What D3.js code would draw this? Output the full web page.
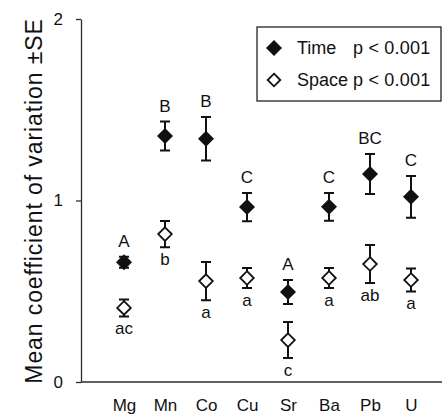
<!doctype html>
<html lang="en">
<head>
  <meta charset="utf-8">
  <title>Mean coefficient of variation</title>
  <script src="https://d3js.org/d3.v7.min.js"></script>
  <style>
    body { margin: 0; background: #fff; }
    svg { display: block; font-family: "Liberation Sans", Arial, Helvetica, sans-serif; }
    .axis path, .axis line { stroke: #332b2b; stroke-width: 1.3; }
    .axis text { font-size: 17px; fill: #111; }
    .letter { font-size: 17px; fill: #111; text-anchor: middle; }
  </style>
</head>
<body>
<div id="chart"></div>
<script>
// element categories
const elements = ['Mg', 'Mn', 'Co', 'Cu', 'Sr', 'Ba', 'Pb', 'U'];

// temporal variation (filled diamonds)
const timeMean = [0.66, 1.355, 1.34, 0.964, 0.496, 0.965, 1.146, 1.02];
const timeSE   = [0.03, 0.08, 0.12, 0.078, 0.066, 0.077, 0.11, 0.115];
const timeGroup = ['A', 'B', 'B', 'C', 'A', 'C', 'BC', 'C'];

// spatial variation (open diamonds)
const spaceMean = [0.408, 0.815, 0.556, 0.573, 0.231, 0.573, 0.65, 0.562];
const spaceSE   = [0.047, 0.072, 0.105, 0.055, 0.099, 0.055, 0.105, 0.063];
const spaceGroup = ['ac', 'b', 'a', 'a', 'c', 'a', 'ab', 'a'];

const yTicks = [0, 1, 2];
const legendItems = [
  { name: 'Time', p: 'p < 0.001', filled: true },
  { name: 'Space', p: 'p < 0.001', filled: false }
];

const width = 442, height = 415;

const svg = d3.select('#chart').append('svg')
  .attr('width', width)
  .attr('height', height);

// scales
const x = d3.scalePoint().domain(elements).range([124, 411]);
const y = d3.scaleLinear().domain([0, 2]).range([382, 19]);

// y axis
svg.append('g')
  .attr('class', 'axis')
  .attr('transform', 'translate(81,0)')
  .call(d3.axisLeft(y).tickValues(yTicks).tickFormat(d3.format('d'))
    .tickSize(5).tickSizeOuter(0).tickPadding(13));

// x axis (line + labels, no ticks)
svg.append('g')
  .attr('class', 'axis')
  .attr('transform', 'translate(0,' + y(0) + ')')
  .call(d3.axisBottom(x).tickSize(0).tickPadding(17))
  .call(g => g.select('.domain').attr('d', 'M81,0H442'));

svg.append('text')
  .attr('transform', 'translate(42,' + 201 + ') rotate(-90)')
  .attr('text-anchor', 'middle')
  .style('font-size', '23px')
  .style('letter-spacing', '0.9px')
  .attr('fill', '#111')
  .text('Mean coefficient of variation \u00b1SE');

// diamond path helper
const diamond = r => `M0,${-r}L${r},0L0,${r}L${-r},0Z`;

function drawSeries(means, ses, filled) {
  const g = svg.append('g');
  const pts = g.selectAll('g')
    .data(elements.map((e, i) => ({ e, m: means[i], se: ses[i] })))
    .join('g')
    .attr('transform', d => `translate(${x(d.e)},0)`);

  pts.append('path')
    .attr('d', d => `M0,${y(d.m + d.se)}V${y(d.m - d.se)}M-5,${y(d.m + d.se)}H5M-5,${y(d.m - d.se)}H5`)
    .attr('stroke', '#111')
    .attr('stroke-width', 2)
    .attr('fill', 'none');

  pts.append('path')
    .attr('transform', d => `translate(0,${y(d.m)})`)
    .attr('d', filled ? diamond(8) : diamond(6.8))
    .attr('fill', filled ? '#111' : '#fff')
    .attr('stroke', filled ? 'none' : '#111')
    .attr('stroke-width', 1.8);
  return pts;
}

drawSeries(spaceMean, spaceSE, false);
drawSeries(timeMean, timeSE, true);

// significance letters
svg.append('g').selectAll('text')
  .data(elements)
  .join('text')
  .attr('class', 'letter')
  .attr('x', d => x(d))
  .attr('y', (d, i) => y(timeMean[i] + timeSE[i]) - 10)
  .text((d, i) => timeGroup[i]);

svg.append('g').selectAll('text')
  .data(elements)
  .join('text')
  .attr('class', 'letter')
  .attr('x', d => x(d))
  .attr('y', (d, i) => y(spaceMean[i] - spaceSE[i]) + 18)
  .text((d, i) => spaceGroup[i]);

// legend
const legend = svg.append('g');
legend.append('rect')
  .attr('x', 257).attr('y', 27)
  .attr('width', 184).attr('height', 74)
  .attr('fill', '#fff')
  .attr('stroke', '#222')
  .attr('stroke-width', 1.3);

const rows = legend.selectAll('g.row')
  .data(legendItems)
  .join('g')
  .attr('class', 'row')
  .attr('transform', (d, i) => `translate(0,${48 + i * 32})`);

rows.append('path')
  .attr('transform', 'translate(274,0)')
  .attr('d', d => d.filled ? diamond(8) : diamond(6.3))
  .attr('fill', d => d.filled ? '#111' : '#fff')
  .attr('stroke', d => d.filled ? 'none' : '#111')
  .attr('stroke-width', 1.8);

rows.append('text')
  .attr('x', 297).attr('y', 6)
  .style('font-size', '18px')
  .attr('fill', '#111')
  .text(d => d.name);

rows.append('text')
  .attr('x', 353).attr('y', 6)
  .style('font-size', '18px')
  .style('letter-spacing', '0.2px')
  .attr('fill', '#111')
  .text(d => d.p);
</script>
</body>
</html>
